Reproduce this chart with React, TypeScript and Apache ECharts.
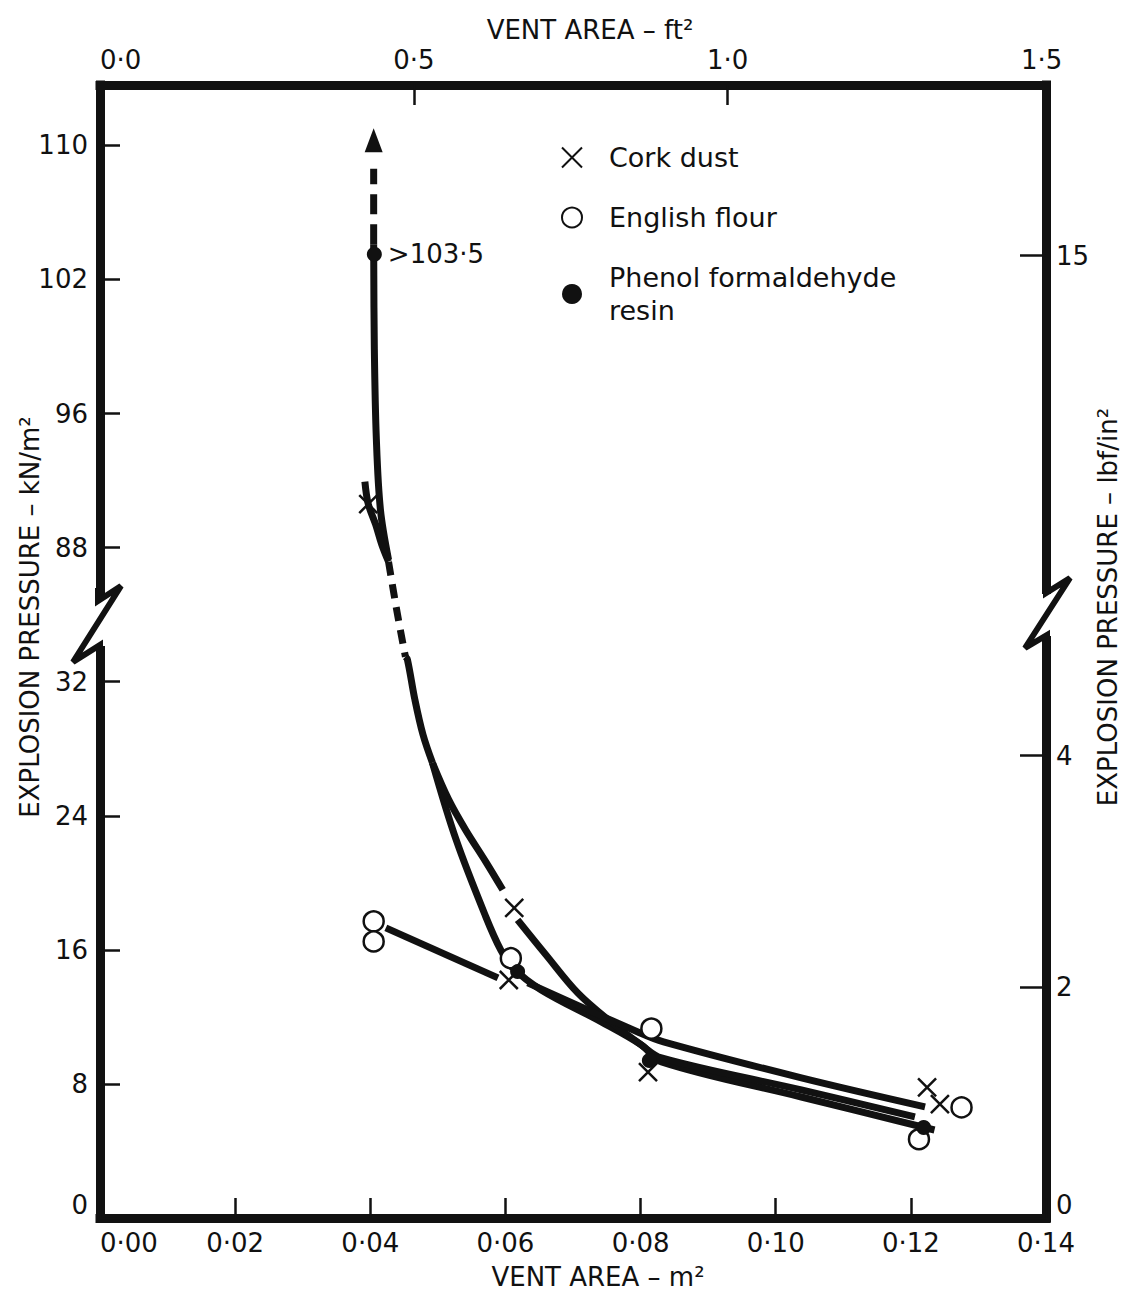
import React, { useEffect, useRef } from 'react';
import * as echarts from 'echarts';

const FONT = '"DejaVu Sans", "Liberation Sans", sans-serif';
const INK = '#111';

// ---------- measured points (vent area m², pressure kN/m²) ----------
const corkArea = [0.0397, 0.0613, 0.0605, 0.0811, 0.1224, 0.1243];
const corkKN = [90.6, 18.5, 14.2, 8.7, 7.8, 6.8];

const flourArea = [0.0405, 0.0405, 0.0608, 0.0816, 0.1275, 0.1212];
const flourKN = [17.7, 16.5, 15.5, 11.3, 6.6, 4.7];

const phenolArea = [0.0406, 0.0618, 0.0813, 0.1219];
const phenolKN = [103.5, 14.7, 9.4, 5.4];

// ---------- hand-drawn curves (vent area m², pressure kN/m²) ----------
const phenolUpperArea = [0.0405, 0.0406, 0.0409, 0.0415, 0.0427];
const phenolUpperKN = [104.1, 98.9, 94.45, 90.27, 83.0];

const arrowArea = [0.0405, 0.0405];
const arrowKN = [104.1, 108.6];
const arrowHeadArea = [0.0405];
const arrowHeadKN = [110.3];

const breakDashArea = [0.0427, 0.0439, 0.0452];
const breakDashKN = [82.1, 62.1, 42.4];

const commonArea = [0.0452, 0.0455, 0.0466, 0.0478, 0.0492];
const commonKN = [42.4, 41.2, 30.93, 28.84, 27.16];

const phenolLowerArea = [0.0492, 0.0527, 0.0571, 0.0593, 0.0611, 0.0653, 0.0742, 0.0801, 0.0831, 0.1038, 0.1235];
const phenolLowerKN = [27.16, 22.57, 17.97, 16.0, 14.93, 13.61, 11.7, 10.33, 9.31, 7.22, 5.25];

const corkTopArea = [0.0392, 0.0397, 0.0408, 0.0417, 0.0427];
const corkTopKN = [91.94, 90.6, 89.37, 88.18, 82.1];

const corkMidArea = [0.0492, 0.0516, 0.0541, 0.0571, 0.0596];
const corkMidKN = [27.16, 24.96, 23.16, 21.25, 19.58];

const corkLowArea = [0.0618, 0.066, 0.0707, 0.0756, 0.0801, 0.0831, 0.1038, 0.1206];
const corkLowKN = [17.79, 15.7, 13.43, 11.7, 10.33, 9.55, 7.64, 6.03];

const flourLeftArea = [0.0423, 0.0589];
const flourLeftKN = [17.31, 14.33];

const flourRightArea = [0.0633, 0.0796, 0.0834, 0.1038, 0.1221];
const flourRightKN = [14.03, 11.1, 10.51, 8.36, 6.63];

// ---------- axis ticks ----------
const leftTickKN = [0, 8, 16, 24, 32, 88, 96, 102, 110];
const leftTickLabels = ['0', '8', '16', '24', '32', '88', '96', '102', '110'];
const rightTickLbf = [0, 2, 4, 15];
const rightTickLabels = ['0', '2', '4', '15'];
const KN_PER_LBF_IN2 = 6.895;
const M2_PER_FT2 = 0.0929;
const topTickFt2 = [0, 0.5, 1.0, 1.5];

// broken pressure scale: 0–32 linear, 32–88 compressed, labels 88/96/102/110 equally spaced
function toAxis(p: number): number {
  if (p <= 32) return p;
  if (p < 88) return 32 + (p - 32) / 7;
  if (p <= 96) return 40 + (p - 88);
  if (p <= 102) return 48 + ((p - 96) * 8) / 6;
  return 56 + (p - 102);
}

const dot = (v: number) => v.toString().replace('.', '·');

function pts(xs: number[], ks: number[]) {
  return xs.map((x, i) => [x, toAxis(ks[i])]);
}

function curve(xs: number[], ks: number[]) {
  return {
    type: 'line',
    data: pts(xs, ks),
    smooth: 0.35,
    symbol: 'none',
    silent: true,
    z: 2,
    lineStyle: { width: 7, color: INK, cap: 'butt', opacity: 1 },
  };
}

const X_PATH = 'path://M0 0L20 20M20 0L0 20';

export default function App() {
  const ref = useRef<HTMLDivElement>(null);

  useEffect(() => {
    if (!ref.current) return;
    const chart = echarts.init(ref.current, null, { renderer: 'svg' });

    const leftVals = leftTickKN.map(toAxis);
    const rightVals = rightTickLbf.map((v) => toAxis(v * KN_PER_LBF_IN2));
    const findLabel = (vals: number[], labels: string[], v: number) => {
      const i = vals.findIndex((a) => Math.abs(a - v) < 1e-6);
      return i >= 0 ? labels[i] : '';
    };

    const axisLine = { show: true, onZero: false, lineStyle: { width: 9, color: INK, cap: 'square' } };
    const labelStyle = { fontFamily: FONT, fontSize: 26, color: INK };
    const tickStyle = { width: 2.5, color: INK };

    const option: any = {
      animation: false,
      backgroundColor: '#fff',
      grid: { left: 100, right: 81, top: 85, bottom: 82, containLabel: false, outerBoundsMode: 'none' },
      legend: {
        orient: 'vertical',
        left: 556,
        top: 136,
        itemWidth: 20,
        itemHeight: 20,
        itemGap: 27,
        selectedMode: false,
        data: ['Cork dust', 'English flour', 'Phenol formaldehyde\nresin'],
        textStyle: { fontFamily: FONT, fontSize: 27, color: INK, lineHeight: 33, padding: [0, 0, 0, 22] },
      },
      xAxis: [
        {
          type: 'value',
          position: 'bottom',
          min: 0,
          max: 0.14,
          interval: 0.02,
          axisLine,
          axisTick: { inside: true, length: 20, lineStyle: tickStyle },
          axisLabel: {
            ...labelStyle,
            margin: 12,
            alignMinLabel: 'left',
            formatter: (v: number) => v.toFixed(2).replace('.', '·'),
          },
          splitLine: { show: false },
        },
        {
          type: 'value',
          position: 'top',
          min: 0,
          max: 0.14 / M2_PER_FT2,
          axisLine,
          axisTick: { inside: true, length: 20, customValues: [0.5, 1.0], lineStyle: tickStyle },
          axisLabel: {
            ...labelStyle,
            margin: 12,
            customValues: topTickFt2,
            alignMinLabel: 'left',
            formatter: (v: number) => v.toFixed(1).replace('.', '·'),
          },
          splitLine: { show: false },
        },
      ],
      yAxis: [
        {
          type: 'value',
          position: 'left',
          min: 0,
          max: 67.6,
          axisLine,
          axisTick: { inside: true, length: 20, customValues: leftVals, lineStyle: tickStyle },
          axisLabel: {
            ...labelStyle,
            margin: 12,
            customValues: leftVals,
            verticalAlignMinLabel: 'bottom',
            formatter: (v: number) => findLabel(leftVals, leftTickLabels, v),
          },
          splitLine: { show: false },
        },
        {
          type: 'value',
          position: 'right',
          min: 0,
          max: 67.6,
          axisLine,
          axisTick: { inside: true, length: 26, customValues: rightVals, lineStyle: tickStyle },
          axisLabel: {
            ...labelStyle,
            margin: 10,
            customValues: rightVals,
            verticalAlignMinLabel: 'bottom',
            formatter: (v: number) => findLabel(rightVals, rightTickLabels, v),
          },
          splitLine: { show: false },
        },
      ],
      series: [
        curve(phenolUpperArea, phenolUpperKN),
        { ...curve(arrowArea, arrowKN), smooth: false, lineStyle: { width: 7, color: INK, type: [20, 10] } },
        {
          type: 'scatter',
          data: pts(arrowHeadArea, arrowHeadKN),
          symbol: 'triangle',
          symbolSize: [18, 24],
          itemStyle: { color: INK, opacity: 1 },
          silent: true,
          z: 3,
        },
        { ...curve(breakDashArea, breakDashKN), lineStyle: { width: 7, color: INK, type: [14, 9] } },
        curve(commonArea, commonKN),
        curve(phenolLowerArea, phenolLowerKN),
        curve(corkTopArea, corkTopKN),
        curve(corkMidArea, corkMidKN),
        curve(corkLowArea, corkLowKN),
        { ...curve(flourLeftArea, flourLeftKN), smooth: false },
        curve(flourRightArea, flourRightKN),
        {
          name: 'Cork dust',
          type: 'scatter',
          data: pts(corkArea, corkKN),
          symbol: X_PATH,
          symbolSize: 18,
          itemStyle: { color: 'rgba(0,0,0,0)', borderColor: INK, borderWidth: 2.5, opacity: 1 },
          z: 5,
        },
        {
          name: 'English flour',
          type: 'scatter',
          data: pts(flourArea, flourKN),
          symbol: 'circle',
          symbolSize: 20,
          itemStyle: { color: '#fff', borderColor: INK, borderWidth: 2.5, opacity: 1 },
          z: 6,
        },
        {
          name: 'Phenol formaldehyde\nresin',
          type: 'scatter',
          data: pts(phenolArea, phenolKN).map((p, i) =>
            i === 0
              ? {
                  value: p,
                  label: {
                    show: true,
                    position: 'right',
                    distance: 6,
                    formatter: '>' + dot(phenolKN[0]),
                    fontFamily: FONT,
                    fontSize: 26,
                    color: INK,
                    opacity: 1,
                  },
                }
              : { value: p }
          ),
          symbol: 'circle',
          symbolSize: 15,
          itemStyle: { color: INK, opacity: 1 },
          z: 7,
        },
      ],
      graphic: [
        // axis breaks (left and right)
        { type: 'rect', z: 100, shape: { x: 90, y: 596, width: 20, height: 50 }, style: { fill: '#fff' } },
        {
          type: 'polyline',
          z: 101,
          shape: { points: [[98, 588], [98, 601], [121, 586], [73, 662], [100, 645], [100, 652]] },
          style: { stroke: INK, lineWidth: 6, fill: null, lineJoin: 'miter' },
        },
        { type: 'rect', z: 100, shape: { x: 1036, y: 594, width: 22, height: 42 }, style: { fill: '#fff' } },
        {
          type: 'polyline',
          z: 101,
          shape: { points: [[1046, 586], [1046, 593], [1070, 578], [1025, 648], [1047, 635], [1047, 642]] },
          style: { stroke: INK, lineWidth: 6, fill: null, lineJoin: 'miter' },
        },
        // axis titles
        {
          type: 'text',
          z: 100,
          x: 590,
          y: 30,
          style: { text: 'VENT AREA – ft²', font: `26px ${FONT}`, fill: INK, textAlign: 'center', textVerticalAlign: 'middle' },
        },
        {
          type: 'text',
          z: 100,
          x: 598,
          y: 1277,
          style: { text: 'VENT AREA – m²', font: `26px ${FONT}`, fill: INK, textAlign: 'center', textVerticalAlign: 'middle' },
        },
        {
          type: 'text',
          z: 100,
          x: 30,
          y: 617,
          rotation: Math.PI / 2,
          style: { text: 'EXPLOSION PRESSURE – kN/m²', font: `26px ${FONT}`, fill: INK, textAlign: 'center', textVerticalAlign: 'middle' },
        },
        {
          type: 'text',
          z: 100,
          x: 1108,
          y: 607,
          rotation: Math.PI / 2,
          style: { text: 'EXPLOSION PRESSURE – lbf/in²', font: `26px ${FONT}`, fill: INK, textAlign: 'center', textVerticalAlign: 'middle' },
        },
      ],
    };

    chart.setOption(option);
    return () => chart.dispose();
  }, []);

  return (
    <div
      ref={ref}
      style={{ position: 'absolute', left: 0, top: 0, width: 1127, height: 1300, background: '#fff' }}
    />
  );
}
